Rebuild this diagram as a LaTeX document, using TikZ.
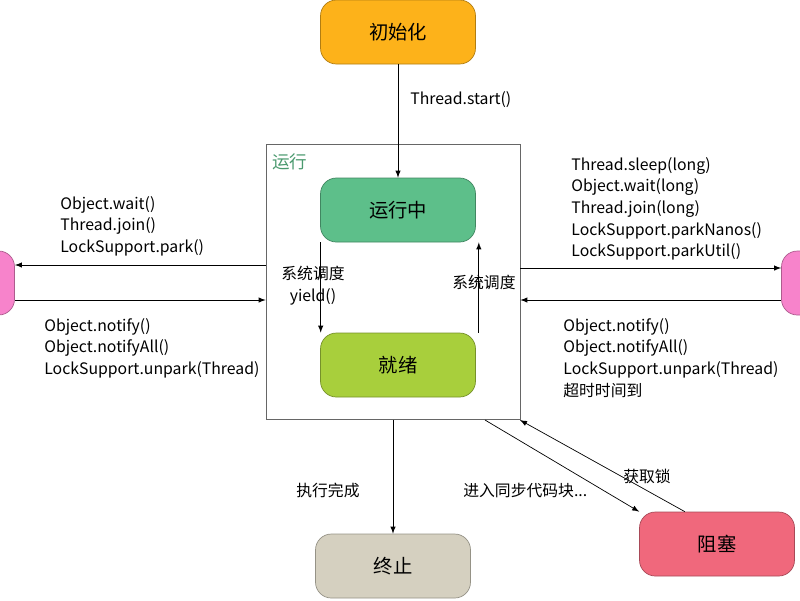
\documentclass[tikz,border=0pt]{standalone}
\usepackage{fontspec}
\setmainfont{Noto Sans CJK SC}
\begin{document}
\begin{tikzpicture}[x=0.02cm,y=-0.02cm,
    state/.style={draw=#1!70!black, fill=#1, rounded corners=9pt, minimum width=3.1cm, minimum height=1.28cm, font=\fontsize{11}{13}\selectfont},
    lbl/.style={align=left, anchor=north west, font=\fontsize{9}{12.3}\selectfont, inner sep=0pt},
    >=latex]
    \definecolor{initc}{HTML}{FDB21A}
    \definecolor{runc}{HTML}{5DBF8A}
    \definecolor{readyc}{HTML}{A8CF3C}
    \definecolor{endc}{HTML}{D5D0C0}
    \definecolor{blockc}{HTML}{F0687C}
    \definecolor{waitc}{HTML}{F783CB}
    \useasboundingbox (0,0) rectangle (800,600);
    % States
    \node[state=initc] (Init) at (398,32) {初始化};
    \node[draw=black!60, minimum width=5.08cm, minimum height=5.5cm] (Box) at (393,282) {};
    \node[anchor=north west, text=runc!80!black, font=\fontsize{10}{12}\selectfont] at (266,148) {运行};
    \node[state=runc] (Running) at (398,210) {运行中};
    \node[state=readyc] (Ready) at (398,365) {就绪};
    \node[state=endc] (End) at (393,566) {终止};
    \node[state=blockc] (Blocked) at (717,544) {阻塞};
    \node[state=waitc, minimum width=0.9cm] (WaitL) at (-8,283) {};
    \node[state=waitc, minimum width=0.9cm] (WaitR) at (804,283) {};
    % Arrows
    \draw[->] (Init) -- (Running);
    \draw[->] ([xshift=-44]Running.south) -- ([xshift=-44]Ready.north);
    \draw[->] ([xshift=46]Ready.north) -- ([xshift=46]Running.south);
    \draw[->] (Box.west |- 0,265) -- (WaitL.east |- 0,265);
    \draw[->] (WaitL.east |- 0,300) -- (Box.west |- 0,300);
    \draw[->] (Box.east |- 0,268) -- (WaitR.west |- 0,268);
    \draw[->] (WaitR.west |- 0,300) -- (Box.east |- 0,300);
    \draw[->] (Box.south) -- (End.north);
    \draw[->] (485,420) -- (Blocked.north west);
    \coordinate (Back) at (520,420);
    \draw[->] ([xshift=26]Blocked.north west) -- (Back);
    % Labels
    \node[lbl] at (410,91) {Thread.start()};
    \node[lbl, align=center, anchor=north] at (313,266) {系统调度\\yield()};
    \node[lbl] at (452,275) {系统调度};
    \node[lbl] at (60,196) {Object.wait()\\Thread.join()\\LockSupport.park()};
    \node[lbl] at (44,318) {Object.notify()\\Object.notifyAll()\\LockSupport.unpark(Thread)};
    \node[lbl] at (571,157) {Thread.sleep(long)\\Object.wait(long)\\Thread.join(long)\\LockSupport.parkNanos()\\LockSupport.parkUtil()};
    \node[lbl] at (563,318) {Object.notify()\\Object.notifyAll()\\LockSupport.unpark(Thread)\\超时时间到};
    \node[lbl] at (296,483) {执行完成};
    \node[lbl] at (463,483) {进入同步代码块...};
    \node[lbl] at (623,469) {获取锁};
\end{tikzpicture}
\end{document}
